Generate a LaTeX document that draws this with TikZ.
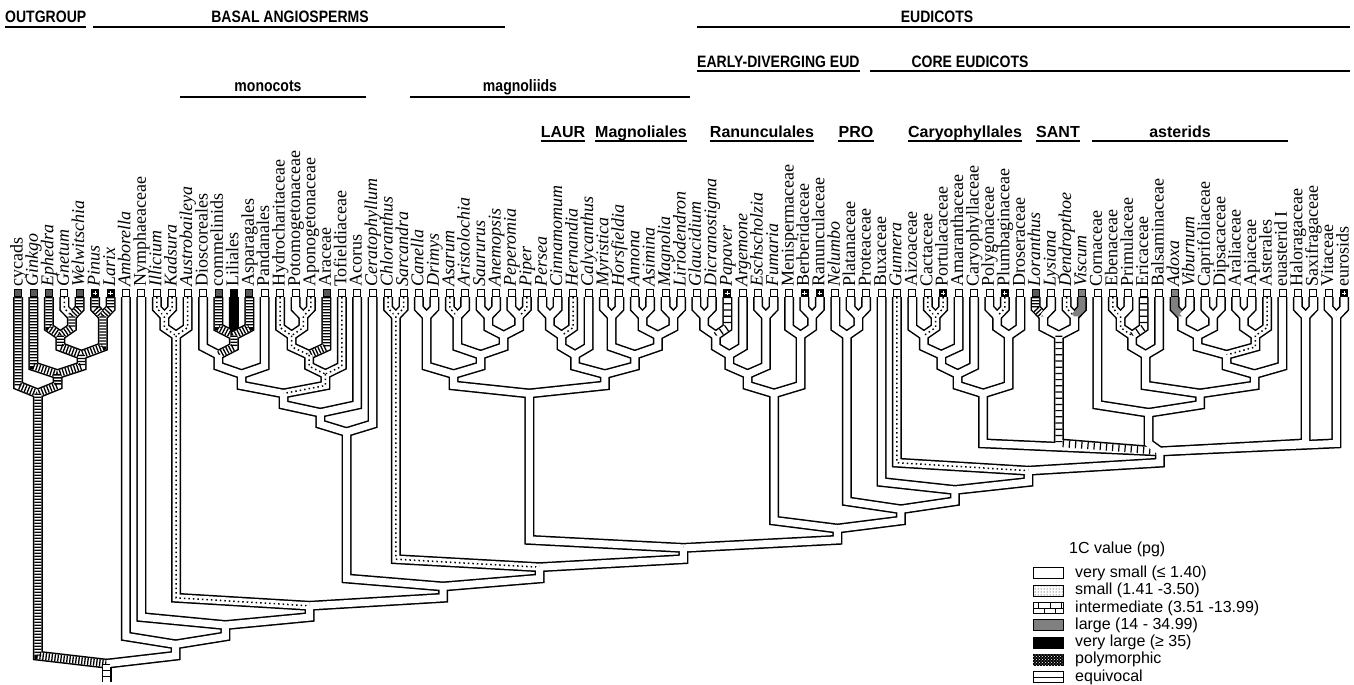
\documentclass[tikz,border=0pt]{standalone}
\usepackage{fontspec}
\setmainfont{Liberation Serif}
\setsansfont{Liberation Sans}
\usetikzlibrary{calc,patterns}
\newcommand\narrowhead[1]{\scalebox{0.85}[1]{#1}}
\tikzset{taxon/.style={rotate=90,anchor=base west,inner sep=0pt,font=\fontsize{18}{18}\selectfont}}
\tikzset{grouphead/.style={anchor=base,inner sep=0pt,font=\sffamily\bfseries\fontsize{16.5}{16.5}\selectfont}}
\tikzset{orderhead/.style={anchor=base,inner sep=0pt,font=\sffamily\bfseries\fontsize{16}{16}\selectfont}}
\tikzset{headline/.style={line width=1.3pt}}
\tikzset{branch/.style={line join=miter,to path={-- ($(\tikztostart |- \tikztotarget)+(0,-8)$) -- (\tikztotarget)}}}
\tikzset{tubeline/.style={branch,line width=10pt,black},tubefill/.style={branch,line width=7pt}}
\tikzset{base0/.style={white},base1/.style={white},base2/.style={white},base3/.style={black!50},base4/.style={black},base6/.style={white}}
\tikzset{over0/.style={draw=none},over3/.style={draw=none},over4/.style={draw=none},
  over1/.style={black,line width=1.5pt,dash pattern=on 1.5pt off 3pt},
  over2/.style={black,dash pattern=on 1.3pt off 1.7pt},
  over6/.style={black,dash pattern=on 1.2pt off 5pt}}
\tikzset{tipbox/.style={line width=0.8pt},box0/.style={fill=white},box2/.style={fill=black!65},box3/.style={fill=black!50},box4/.style={fill=black},
  box1/.style={fill=white,path picture={\fill (path picture bounding box.center) circle (1.1pt);}},
  box5/.style={fill=black,path picture={\draw[white,line width=0.9pt] ($(path picture bounding box.center)+(-2.2,0)$) -- ++(4.4,0) ($(path picture bounding box.center)+(0,-2.2)$) -- ++(0,4.4);}}}
\tikzset{swatch/.style={line width=0.9pt},sw0/.style={fill=white},sw1/.style={pattern=dots},sw2/.style={pattern=bricks},sw3/.style={fill=black!50},sw4/.style={fill=black},
  sw5/.style={fill=black,postaction={pattern=crosshatch dots,pattern color=white}},
  sw6/.style={fill=white,path picture={\draw (path picture bounding box.west) -- (path picture bounding box.east);}},
  legendtext/.style={anchor=west,inner sep=0pt,font=\sffamily\fontsize{16}{16}\selectfont}}
\newcommand\clade[4]{\path let \p1=($(#2)!.5!(#3)$) in (\x1,{297+19.3*#4}) coordinate (#1);}
\def\edgelist{cycads/outg/2, ginkgo/gink/2, ephedra/egw/2, gnetum/gw/1, welwitschia/gw/2, gw/egw/2, pinus/pl/2, larix/pl/2, egw/conif/2, pl/conif/2, conif/gink/2, gink/outg/2, outg/root/2,
amborella/A0/0, A0/root/0, nymphaeaceae/A1/0, A1/A0/0, root/rootbase/6,
illicium/ik/1, kadsura/ik/1, ik/austr/1, austrobaileya/austr/1, austr/A2/1, A2/A1/0,
commelinids/cla/2, liliales/cla/4, asparagales/cla/2, dioscoreales/dcla/0, cla/dcla/2, dcla/dpan/0, pandanales/dpan/0,
potomogetonaceae/pa/0, aponogetonaceae/pa/1, hydrocharitaceae/hpa/1, pa/hpa/1, hpa/hpaa/1, araceae/hpaa/2, hpaa/alism/1, tofieldiaceae/alism/1,
dpan/mono5/0, alism/mono5/1, mono5/mono/0, acorus/mono/0, mono/moncer/0, ceratophyllum/moncer/0, moncer/A3/0, A3/A2/0,
chloranthus/chlor/1, sarcandra/chlor/1, chlor/A4/1, A4/A3/0,
canella/canel/0, drimys/canel/0, asarum/asar/1, aristolochia/asar/0, saururus/saur/0, anemopsis/saur/0, peperomia/pip/0, piper/pip/1, saur/piperales/0, pip/piperales/0, asar/aspip/0, piperales/aspip/0, canel/magl/0, aspip/magl/0,
persea/pc/0, cinnamomum/pc/0, pc/pch/0, hernandia/pch/1, pch/laur/0, calycanthus/laur/0,
myristica/mh/0, horsfieldia/mh/0, annona/aa/0, asimina/aa/0, magnolia/ml/0, liriodendron/ml/0, aa/aaml/0, ml/aaml/0, mh/magn/0, aaml/magn/0, laur/magr/0, magn/magr/0, magl/magnol/0, magr/magnol/0, magnol/A5/0, A5/A4/0,
glaucidium/gd/0, dicranostigma/gd/0, gd/gdp/0, papaver/gdp/6, gdp/gdpa/0, argemone/gdpa/0, eschscholzia/ef/0, fumaria/ef/0, gdpa/papf/0, ef/papf/0, berberidaceae/br/0, ranunculaceae/br/0, menispermaceae/mbr/0, br/mbr/0, papf/ranunc/0, mbr/ranunc/0, ranunc/eud/0, eud/A5/0,
platanaceae/pp/0, proteaceae/pp/0, nelumbo/nel/0, pp/nel/0, nel/E1/0, E1/eud/0, buxaceae/E2/0, E2/E1/0, gunnera/E3/1, E3/E2/0, core/E3/0,
cactaceae/cp/1, portulacaceae/cp/1, aizoaceae/acp/0, cp/acp/1, acp/acpa/0, amaranthaceae/acpa/0, acpa/caryl/0, caryophyllaceae/caryl/0, polygonaceae/plp/0, plumbaginaceae/plp/1, plp/plpd/0, droseraceae/plpd/0, caryl/caryo/0, plpd/caryo/0, caryo/core/0,
loranthus/ll/2, lysiana/ll/0, dendropthoe/dv/1, viscum/dv/3, ll/sant/0, dv/sant/0, sant/core/6,
ebenaceae/ep/1, primulaceae/ep/0, ep/epe/1, ericaceae/epe/6, epe/eric/0, balsaminaceae/eric/0,
adoxa/av/3, viburnum/av/0, caprifoliaceae/cd/0, dipsacaceae/cd/0, av/dips/0, cd/dips/0, araliaceae/apia/0, apiaceae/apia/0, apia/apast/0, asterales/apast/1, dips/euii/0, apast/euii/1, euii/euast/0, euasteridI/euast/0, eric/ericeu/0, euast/ericeu/0, cornaceae/aster/0, ericeu/aster/0, aster/core/0,
haloragaceae/hs/0, saxifragaceae/hs/0, hs/core/0, vitaceae/ve/0, eurosids/ve/0, ve/core/0}

\begin{document}
\begin{tikzpicture}[x=1pt,y=-1pt]
\useasboundingbox (0,0) rectangle (1354,685);
\foreach \nm/\lab/\bx [count=\i] in {cycads/cycads/2, ginkgo/\textit{Ginkgo}/2, ephedra/\textit{Ephedra}/2, gnetum/\textit{Gnetum}/1, welwitschia/\textit{Welwitschia}/2, pinus/\textit{Pinus}/5, larix/\textit{Larix}/5,
  amborella/\textit{Amborella}/0, nymphaeaceae/Nymphaeaceae/0, illicium/\textit{Illicium}/1, kadsura/\textit{Kadsura}/1, austrobaileya/\textit{Austrobaileya}/1,
  dioscoreales/Dioscoreales/0, commelinids/commelinids/2, liliales/Liliales/4, asparagales/Asparagales/2, pandanales/Pandanales/0, hydrocharitaceae/Hydrocharitaceae/1, potomogetonaceae/Potomogetonaceae/0, aponogetonaceae/Aponogetonaceae/1, araceae/Araceae/2, tofieldiaceae/Tofieldiaceae/1, acorus/Acorus/0,
  ceratophyllum/\textit{Ceratophyllum}/0, chloranthus/\textit{Chloranthus}/1, sarcandra/\textit{Sarcandra}/1,
  canella/\textit{Canella}/1, drimys/\textit{Drimys}/0, asarum/\textit{Asarum}/1, aristolochia/\textit{Aristolochia}/0, saururus/\textit{Saururus}/0, anemopsis/\textit{Anemopsis}/0, peperomia/\textit{Peperomia}/0, piper/\textit{Piper}/1,
  persea/\textit{Persea}/0, cinnamomum/\textit{Cinnamomum}/0, hernandia/\textit{Hernandia}/1, calycanthus/\textit{Calycanthus}/0, myristica/\textit{Myristica}/0, horsfieldia/\textit{Horsfieldia}/1, annona/\textit{Annona}/0, asimina/\textit{Asimina}/0, magnolia/\textit{Magnolia}/0, liriodendron/\textit{Liriodendron}/0,
  glaucidium/\textit{Glaucidium}/0, dicranostigma/\textit{Dicranostigma}/0, papaver/\textit{Papaver}/5, argemone/\textit{Argemone}/0, eschscholzia/\textit{Eschscholzia}/0, fumaria/\textit{Fumaria}/0, menispermaceae/Menispermaceae/0, berberidaceae/Berberidaceae/5, ranunculaceae/Ranunculaceae/5,
  nelumbo/\textit{Nelumbo}/0, platanaceae/Platanaceae/0, proteaceae/Proteaceae/0, buxaceae/Buxaceae/0, gunnera/\textit{Gunnera}/1,
  aizoaceae/Aizoaceae/0, cactaceae/Cactaceae/1, portulacaceae/Portulacaceae/5, amaranthaceae/Amaranthaceae/0, caryophyllaceae/Caryophyllaceae/0, polygonaceae/Polygonaceae/0, plumbaginaceae/Plumbaginaceae/5, droseraceae/Droseraceae/0,
  loranthus/\textit{Loranthus}/2, lysiana/\textit{Lysiana}/1, dendropthoe/\textit{Dendropthoe}/1, viscum/\textit{Viscum}/3,
  cornaceae/Cornaceae/0, ebenaceae/Ebenaceae/1, primulaceae/Primulaceae/0, ericaceae/Ericaceae/1, balsaminaceae/Balsaminaceae/0, adoxa/\textit{Adoxa}/3, viburnum/\textit{Viburnum}/1, caprifoliaceae/Caprifoliaceae/0, dipsacaceae/Dipsacaceae/0, araliaceae/Araliaceae/0, apiaceae/Apiaceae/0, asterales/Asterales/1, euasteridI/euasterid I/1,
  haloragaceae/Haloragaceae/0, saxifragaceae/Saxifragaceae/0, vitaceae/Vitaceae/0, eurosids/eurosids/5}
{
  \coordinate (\nm) at ({18+(\i-1)*15.42},297);
  \node[taxon] (lab-\nm) at ($(\nm)+(4.5,-10)$) {\lab};
  \draw[tipbox,box\bx] ($(\nm)+(-3.5,-7.5)$) rectangle ($(\nm)+(3.5,-0.5)$);
}
\clade{gw}{gnetum}{welwitschia}{1}
\clade{egw}{ephedra}{gw}{2}
\clade{pl}{pinus}{larix}{1}
\clade{conif}{egw}{pl}{3}
\clade{gink}{ginkgo}{conif}{4}
\clade{outg}{cycads}{gink}{5}
\clade{ik}{illicium}{kadsura}{1}
\clade{austr}{ik}{austrobaileya}{2}
\clade{cla}{commelinids}{asparagales}{2}
\clade{dcla}{dioscoreales}{cla}{3}
\clade{dpan}{dcla}{pandanales}{4}
\clade{pa}{potomogetonaceae}{aponogetonaceae}{1}
\clade{hpa}{hydrocharitaceae}{pa}{2}
\clade{hpaa}{hpa}{araceae}{3}
\clade{alism}{hpaa}{tofieldiaceae}{4}
\clade{mono5}{dpan}{alism}{5}
\clade{mono}{mono5}{acorus}{6}
\clade{moncer}{mono}{ceratophyllum}{7}
\clade{chlor}{chloranthus}{sarcandra}{1}
\clade{canel}{canella}{drimys}{1}
\clade{asar}{asarum}{aristolochia}{1}
\clade{saur}{saururus}{anemopsis}{1}
\clade{pip}{peperomia}{piper}{1}
\clade{piperales}{saur}{pip}{2}
\clade{aspip}{asar}{piperales}{3}
\clade{magl}{canel}{aspip}{4}
\clade{pc}{persea}{cinnamomum}{1}
\clade{pch}{pc}{hernandia}{2}
\clade{laur}{pch}{calycanthus}{3}
\clade{mh}{myristica}{horsfieldia}{1}
\clade{aa}{annona}{asimina}{1}
\clade{ml}{magnolia}{liriodendron}{1}
\clade{aaml}{aa}{ml}{2}
\clade{magn}{mh}{aaml}{3}
\clade{magr}{laur}{magn}{4}
\clade{magnol}{magl}{magr}{5}
\clade{gd}{glaucidium}{dicranostigma}{1}
\clade{gdp}{gd}{papaver}{2}
\clade{gdpa}{gdp}{argemone}{3}
\clade{ef}{eschscholzia}{fumaria}{1}
\clade{papf}{gdpa}{ef}{4}
\clade{br}{berberidaceae}{ranunculaceae}{1}
\clade{mbr}{menispermaceae}{br}{2}
\clade{ranunc}{papf}{mbr}{5}
\clade{pp}{platanaceae}{proteaceae}{1}
\clade{nel}{nelumbo}{pp}{2}
\clade{cp}{cactaceae}{portulacaceae}{1}
\clade{acp}{aizoaceae}{cp}{2}
\clade{acpa}{acp}{amaranthaceae}{3}
\clade{caryl}{acpa}{caryophyllaceae}{4}
\clade{plp}{polygonaceae}{plumbaginaceae}{1}
\clade{plpd}{plp}{droseraceae}{2}
\clade{caryo}{caryl}{plpd}{5}
\clade{ll}{loranthus}{lysiana}{1}
\clade{dv}{dendropthoe}{viscum}{1}
\clade{sant}{ll}{dv}{2}
\clade{ep}{ebenaceae}{primulaceae}{1}
\clade{epe}{ep}{ericaceae}{2}
\clade{eric}{epe}{balsaminaceae}{3}
\clade{av}{adoxa}{viburnum}{1}
\clade{cd}{caprifoliaceae}{dipsacaceae}{1}
\clade{dips}{av}{cd}{2}
\clade{apia}{araliaceae}{apiaceae}{1}
\clade{apast}{apia}{asterales}{2}
\clade{euii}{dips}{apast}{3}
\clade{euast}{euii}{euasteridI}{4}
\clade{ericeu}{eric}{euast}{5}
\clade{aster}{cornaceae}{ericeu}{6}
\clade{hs}{haloragaceae}{saxifragaceae}{1}
\clade{ve}{vitaceae}{eurosids}{1}
\clade{core}{caryo}{ve}{8}
\clade{E3}{gunnera}{core}{9}
\clade{E2}{buxaceae}{E3}{10}
\clade{E1}{nel}{E2}{11}
\clade{eud}{ranunc}{E1}{12}
\clade{A5}{magnol}{eud}{13}
\clade{A4}{chlor}{A5}{14}
\clade{A3}{moncer}{A4}{15}
\clade{A2}{austr}{A3}{16}
\clade{A1}{nymphaeaceae}{A2}{17}
\clade{A0}{amborella}{A1}{18}
\clade{root}{outg}{A0}{19}
\coordinate (rootbase) at ($(root)+(0,18)$);
\foreach \c/\p/\s in \edgelist {\draw[tubeline] (\c) to (\p);}
\foreach \c/\p/\s in \edgelist {\draw[tubefill,base\s] (\c) to (\p); \draw[tubefill,over\s] (\c) to (\p);}

\node[grouphead,anchor=base west] (hOutgroup) at (5,23) {\narrowhead{OUTGROUP}};
\draw[headline] ($(hOutgroup.base west)+(0,4)$) -- ($(hOutgroup.base east)+(0,4)$);
\node[grouphead] (hBasal) at (290,23) {\narrowhead{BASAL ANGIOSPERMS}};
\draw[headline] (93,27) -- (505,27);
\node[grouphead] (hEudicots) at (937,23) {\narrowhead{EUDICOTS}};
\draw[headline] (697,27) -- (1350,27);
\node[grouphead,anchor=base west] (hEarly) at (697,67) {\narrowhead{EARLY-DIVERGING EUD}};
\draw[headline] ($(hEarly.base west)+(0,4)$) -- ($(hEarly.base east)+(0,4)$);
\node[grouphead] (hCore) at (970,67) {\narrowhead{CORE EUDICOTS}};
\draw[headline] (870,71) -- (1350,71);
\node[grouphead] (hMonocots) at (268,92) {\narrowhead{monocots}};
\draw[headline] (180,97) -- (366,97);
\node[grouphead] (hMagnoliids) at (520,92) {\narrowhead{magnoliids}};
\draw[headline] (410,97) -- (690,97);
\foreach \nm/\xx/\txt in {hLaur/563/LAUR, hMagnoliales/641/Magnoliales, hRanunculales/762/Ranunculales, hPro/856/PRO, hCaryophyllales/965/Caryophyllales, hSant/1058/SANT}
{
  \node[orderhead] (\nm) at (\xx,137) {\txt};
  \draw[headline] ($(\nm.base west)+(0,4)$) -- ($(\nm.base east)+(0,4)$);
}
\node[orderhead] (hAsterids) at (1180,137) {asterids};
\draw[headline] (1092,141) -- (1288,141);

\node[anchor=base west,inner sep=0pt,font=\sffamily\fontsize{16}{16}\selectfont] (hLegend) at (1069,553) {1C value (pg)};
\foreach \st/\txt [count=\k] in {0/very small (≤ 1.40), 1/small (1.41 -3.50), 2/intermediate (3.51 -13.99), 3/large (14 - 34.99), 4/very large (≥ 35), 5/polymorphic, 6/equivocal}
{
  \draw[swatch,sw\st] (1033,{556+17.3*\k-5.5}) rectangle (1063,{556+17.3*\k+5.5});
  \node[legendtext] (legend-\k) at (1075,{556+17.3*\k}) {\txt};
}
\end{tikzpicture}
\end{document}
